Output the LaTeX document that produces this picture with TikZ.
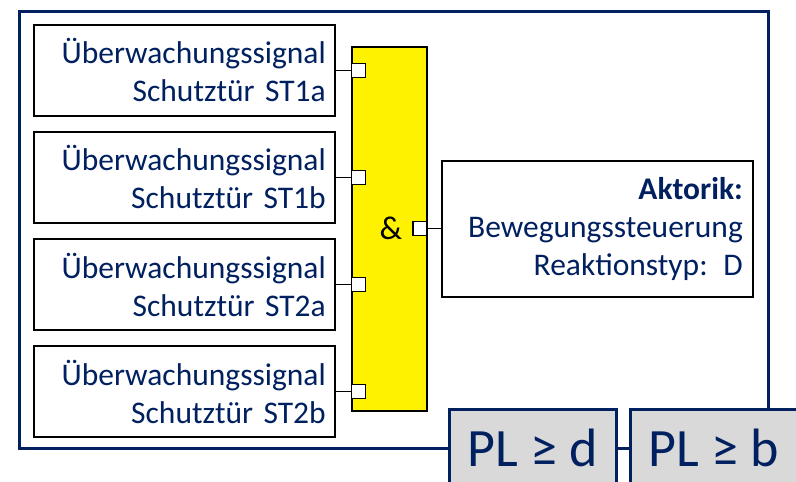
\documentclass[tikz,border=0pt]{standalone}
\usepackage{fontspec}
\setmainfont{Carlito}
\usetikzlibrary{positioning}
\definecolor{navy}{HTML}{002060}
\definecolor{plgray}{HTML}{D9D9D9}

\begin{document}
\begin{tikzpicture}[x=1pt, y=-1pt, node distance=14.5pt,
    every node/.style = {font=\fontsize{31.5}{38}\selectfont, text=navy},
    signal/.style = {draw, line width=1.6pt, fill=white, align=right,
      text width=283pt, minimum height=91pt, inner xsep=9pt, inner ysep=0pt},
    gate/.style = {draw, line width=1.6pt, fill=yellow,
      minimum width=75pt, minimum height=364pt, inner sep=0pt},
    port/.style = {draw, line width=1.2pt, fill=white, minimum size=14pt, inner sep=0pt},
    level/.style = {draw=navy, line width=3pt, fill=plgray,
      minimum width=167pt, minimum height=76pt, inner sep=0pt,
      font=\fontsize{54}{60}\selectfont}]
  \clip (0,0) rectangle (796,482);
  % outer frame
  \node[draw=navy, line width=3pt, minimum width=749pt, minimum height=437pt,
    inner sep=0pt, anchor=north west] (frame) at (18,10) {};

  % monitoring signals
  \node[signal, anchor=north west] (st1a) at (33,24) {Überwachungssignal\\Schutztür ST1a};
  \node[signal, below=of st1a] (st1b) {Überwachungssignal\\Schutztür ST1b};
  \node[signal, below=of st1b] (st2a) {Überwachungssignal\\Schutztür ST2a};
  \node[signal, below=of st2a] (st2b) {Überwachungssignal\\Schutztür ST2b};

  % AND gate
  \node[gate, anchor=north west] (and) at (351,46) {};
  \foreach \s in {st1a,st1b,st2a,st2b} {
    \node[port, anchor=west] (in-\s) at (and.west |- \s.east) {};
    \draw[line width=1.2pt] (\s.east) -- (in-\s);
  }

  % actuator
  \node[signal, text width=291pt, inner xsep=10pt, minimum height=136pt,
    anchor=north west] (act) at (441,160) {\textbf{Aktorik:}\\Bewegungssteuerung\\Reaktionstyp: D};
  \node[port, anchor=east] (out) at (and.east |- act.west) {};
  \node[text=black, left=10pt of out, inner sep=0pt, font=\fontsize{33}{38}\selectfont] (amp) {\&};
  \draw[line width=1.2pt] (out) -- (act);

  % performance levels
  \node[level, anchor=north west] (pld) at (448,408) {PL ≥ d};
  \node[level, anchor=north west] (plb) at (629,408) {PL ≥ b};
\end{tikzpicture}
\end{document}
